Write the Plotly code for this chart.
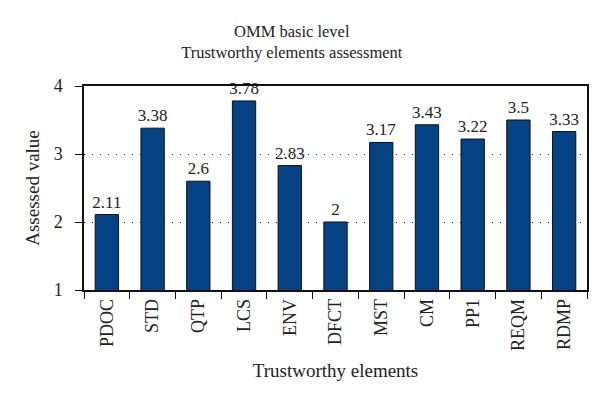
import plotly.graph_objects as go

categories = ["PDOC", "STD", "QTP", "LCS", "ENV", "DFCT", "MST", "CM", "PP1", "REQM", "RDMP"]
values = [2.11, 3.38, 2.6, 3.78, 2.83, 2, 3.17, 3.43, 3.22, 3.5, 3.33]
value_labels = ["2.11", "3.38", "2.6", "3.78", "2.83", "2", "3.17", "3.43", "3.22", "3.5", "3.33"]
y_ticks = [1, 2, 3, 4]

FONT = "Liberation Serif"
TXT = "#222"

fig = go.Figure(go.Bar(
    x=categories,
    y=values,
    text=value_labels,
    textposition="outside",
    cliponaxis=False,
    textfont=dict(family=FONT, size=17, color=TXT),
    marker=dict(color="#054385", line=dict(color="#111", width=1)),
))

fig.update_layout(
    width=600, height=398,
    margin=dict(l=76, r=21, t=78, b=116),
    paper_bgcolor="white", plot_bgcolor="white",
    bargap=0.49,
    showlegend=False,
    uniformtext=dict(minsize=17, mode="show"),
    title=dict(
        text="OMM basic level<br>Trustworthy elements assessment",
        x=0.473, xanchor="center", xref="container",
        y=0.928, yanchor="middle",
        font=dict(family=FONT, size=16.5, color=TXT),
    ),
    font=dict(family=FONT, size=17, color=TXT),
)

fig.update_xaxes(
    type="category",
    tickangle=-90,
    tickson="boundaries",
    ticks="outside", ticklen=7, tickcolor="#111", tickwidth=1.2,
    showline=True, linecolor="#111", linewidth=1.5, mirror=True,
    showgrid=False,
    tickfont=dict(family=FONT, size=18, color=TXT),
    title=dict(text="Trustworthy elements", font=dict(family=FONT, size=19, color=TXT), standoff=14),
)

fig.update_yaxes(
    range=[1, 4],
    tickvals=y_ticks,
    ticks="outside", ticklen=7, tickcolor="#111", tickwidth=1.2,
    ticklabelstandoff=9,
    showline=True, linecolor="#111", linewidth=1.5, mirror=True,
    showgrid=True, gridcolor="#222", gridwidth=1, griddash="1px,7px",
    zeroline=False,
    tickfont=dict(family=FONT, size=18, color=TXT),
    title=dict(text="Assessed value", font=dict(family=FONT, size=19, color=TXT), standoff=9),
)

fig.write_html("out.html")
